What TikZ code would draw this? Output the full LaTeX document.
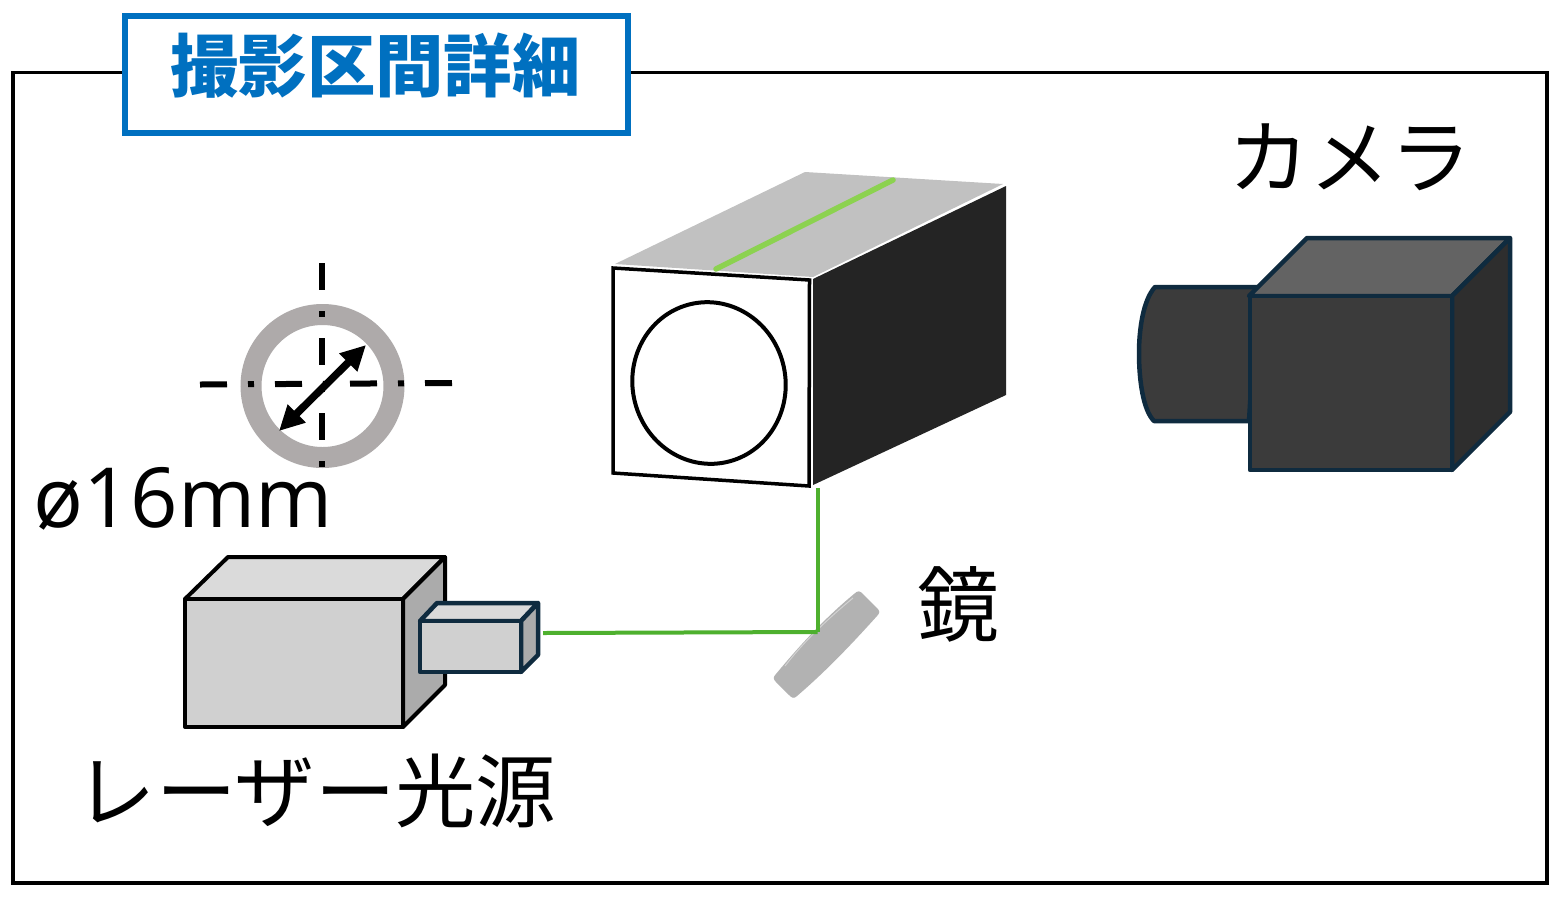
\documentclass[tikz,border=0pt]{standalone}
\usepackage{fontspec}
\setmainfont{Noto Sans CJK JP}
\newfontfamily\latinfont{Open Sans}
\usetikzlibrary{arrows.meta}
\definecolor{navyline}{HTML}{0F2B3F}
\definecolor{titleblue}{HTML}{0070C0}
\definecolor{beam}{HTML}{4EB02E}
\definecolor{beamlight}{HTML}{8CD250}
\definecolor{ringgray}{HTML}{AEAAAA}
\tikzset{
  x=1pt,y=-1pt,
  lbl/.style={inner sep=0pt,text=black,font=\fontsize{#1}{#1}\selectfont},
  beamline/.style={draw=beam,line width=4pt},
  center dash/.style={draw=black,line width=6pt,dash pattern=on 27pt off 21pt on 6pt off 21pt},
  greybox/.style={draw=black,line width=4pt,line join=round},
  navybox/.style={draw=navyline,line width=4.5pt,line join=round},
}
\begin{document}
\begin{tikzpicture}
\useasboundingbox (0,0) rectangle (1555,898);
\fill[white] (0,0) rectangle (1555,898);
% frame
\draw[black,line width=3.5pt] (13,72.5) rectangle (1547,883);
\node[draw=titleblue,fill=white,line width=6.5pt,minimum width=503pt,minimum height=117pt,inner sep=0pt] (title) at (376.5,74.5) {};
\node[inner sep=0pt,text=titleblue,font=\fontsize{68.3}{68.3}\selectfont\bfseries] (titletext) at (375.5,65.5) {撮影区間詳細};
% tube
\fill[fill=black!24.5] (615,264) -- (805,172) -- (1003,184) -- (813,277) -- cycle;
\fill[fill=black!86] (813,279) -- (1006,186) -- (1006,395) -- (813,485) -- cycle;
\draw[black,line width=3.5pt,fill=white] (613,268) -- (809.5,280) -- (809,486) -- (613,473) -- cycle;
\draw[black,line width=4pt,rotate around={12:(709,383)}] (709,383) ellipse [x radius=76.5,y radius=81];
\coordinate (gA) at (716,269);
\coordinate (gB) at (893,180);
\draw[beamlight,line width=5.5pt,line cap=round] (gA) -- (gB);
% ring
\coordinate (ringc) at (322.5,386);
\draw[ringgray,line width=21pt] (ringc) circle [radius=71.5];
\coordinate (vT) at (322,263);
\coordinate (vB) at (322,468);
\coordinate (hL) at (200,384.5);
\coordinate (hR) at (453,383);
\draw[center dash] (vT) -- (vB);
\draw[center dash] (hL) -- (hR);
\coordinate (aA) at (279,431);
\coordinate (aB) at (366,345);
\draw[black,line width=7.5pt,{Triangle[length=25pt,width=24pt]}-{Triangle[length=25pt,width=24pt]}] (aA) -- (aB);
\node[inner sep=0pt,text=black,font=\latinfont\fontsize{83}{83}\selectfont] (dia) at (183,499) {ø16mm};
% beam
\coordinate (tubeB) at (817.5,488);
\coordinate (mirP) at (817.5,632);
\coordinate (lasE) at (543,633);
% mirror
\fill[fill=black!30] (854,594) .. controls (858,590) and (860,591) .. (863,594) -- (877,608)
  .. controls (880,611) and (880,613) .. (877,616)
  .. controls (850,646) and (825,672) .. (797,696)
  .. controls (794,699) and (792,698) .. (789,695) -- (776,682)
  .. controls (773,679) and (773,677) .. (776,674)
  .. controls (800,645) and (825,618) .. (854,594) -- cycle;
\draw[black!18,line width=1pt] (853,598) .. controls (830,617) and (805,640) .. (785,666);
\draw[beamline] (lasE) -- (mirP);
\draw[beamline] (tubeB) -- (mirP);
% laser
\draw[greybox,fill=black!14.5] (185,599) -- (228,557) -- (445,557) -- (403,599) -- cycle;
\draw[greybox,fill=black!33] (403,599) -- (445,557) -- (445,685) -- (403,727) -- cycle;
\draw[greybox,fill=black!18.5] (185,599) rectangle (403,727);
\draw[navybox,fill=black!14.5] (420,621) -- (437,603) -- (538,603) -- (521,621) -- cycle;
\draw[navybox,fill=black!33] (521,621) -- (538,603) -- (538,655) -- (521,672) -- cycle;
\draw[navybox,fill=black!18.5] (420,621) rectangle (521,672);
% camera
\draw[navybox,fill=black!77] (1257,287) -- (1155,287) .. controls (1143,300) and (1139,330) .. (1139,353)
   .. controls (1139,380) and (1143,410) .. (1154,421) -- (1249,421) -- cycle;
\draw[navybox,fill=black!61] (1249,296) -- (1307,238) -- (1510,238) -- (1452,296) -- cycle;
\draw[navybox,fill=black!82] (1452,296) -- (1510,238) -- (1510,412) -- (1452,470) -- cycle;
\draw[navybox,fill=black!77] (1250,296) rectangle (1452,470);
% labels
\node[lbl=81] (cam) at (1350,157) {カメラ};
\node[lbl=80.4] (las) at (316,791) {レーザー光源};
\node[lbl=82] (mir) at (958,604) {鏡};
\end{tikzpicture}
\end{document}
